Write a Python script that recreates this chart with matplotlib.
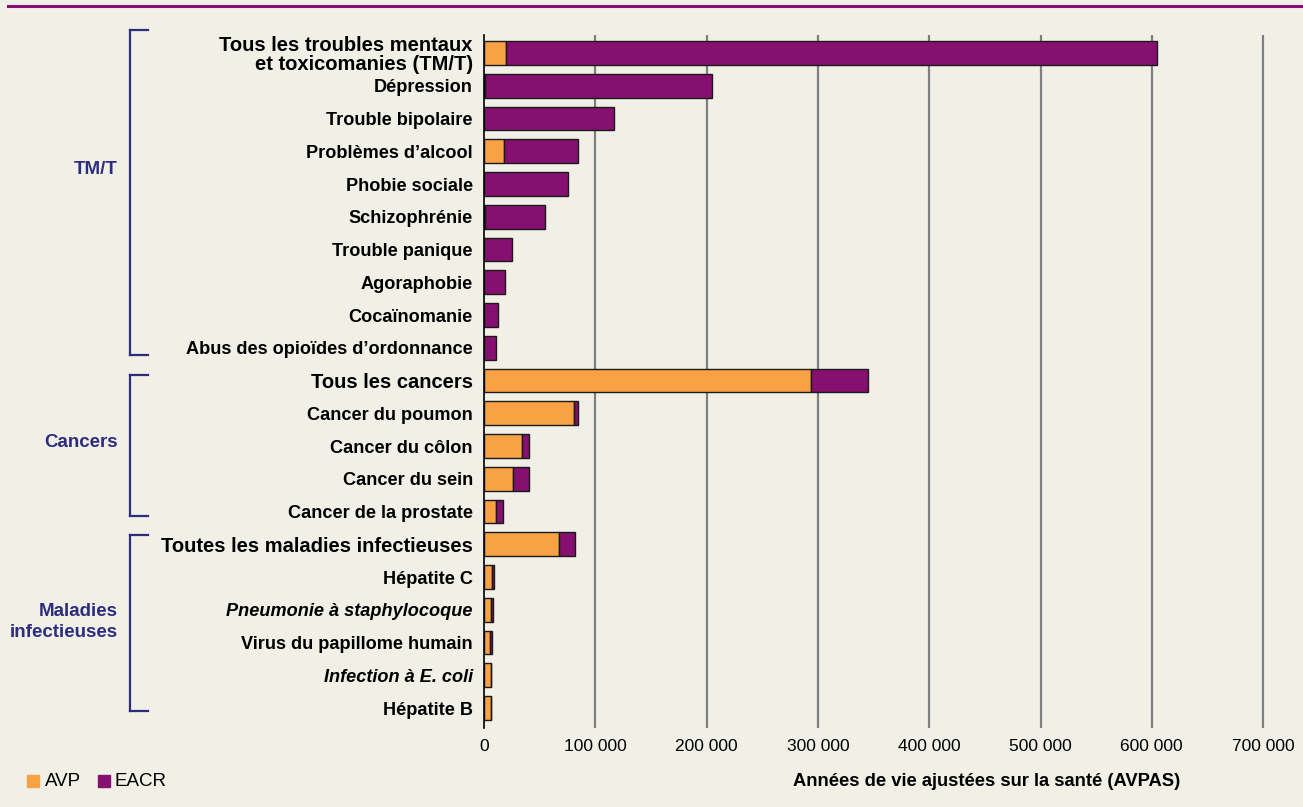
import matplotlib
matplotlib.use("Agg")
import matplotlib.pyplot as plt
from matplotlib.lines import Line2D
from matplotlib.patches import Rectangle

plt.rcParams['font.family'] = ['Liberation Sans', 'DejaVu Sans']

categories = [
    "Tous les troubles mentaux\net toxicomanies (TM/T)",
    "Dépression",
    "Trouble bipolaire",
    "Problèmes d\u2019alcool",
    "Phobie sociale",
    "Schizophrénie",
    "Trouble panique",
    "Agoraphobie",
    "Cocaïnomanie",
    "Abus des opioïdes d\u2019ordonnance",
    "Tous les cancers",
    "Cancer du poumon",
    "Cancer du côlon",
    "Cancer du sein",
    "Cancer de la prostate",
    "Toutes les maladies infectieuses",
    "Hépatite C",
    "Pneumonie à staphylocoque",
    "Virus du papillome humain",
    "Infection à E. coli",
    "Hépatite B",
]
avp = [20000, 1000, 0, 18000, 0, 1000, 0, 0, 0, 0,
       294000, 81000, 34000, 26300, 11000,
       67600, 7200, 6000, 5400, 6300, 6600]
eacr = [584500, 203600, 117000, 66200, 75500, 54000, 25200, 19000, 12300, 10500,
        51000, 3300, 6000, 13800, 6300,
        14100, 1500, 1800, 1800, 200, 0]
header_rows = [0, 10, 15]
italic_rows = [17, 19]

groups = ["TM/T", "Cancers", "Maladies\ninfectieuses"]
group_spans = [(0, 9), (10, 14), (15, 20)]

xticks = [0, 100000, 200000, 300000, 400000, 500000, 600000, 700000]
xtick_labels = ["0", "100 000", "200 000", "300 000", "400 000", "500 000", "600 000", "700 000"]

legend_labels = ["AVP", "EACR"]
x_title = "Années de vie ajustées sur la santé (AVPAS)"

BG = "#F1F0E6"
ORANGE = "#F8A145"
PURPLE = "#85106F"
NAVY = "#2E2C7E"
GRID = "#7F7F7F"

W, H = 1303, 807
fig = plt.figure(figsize=(W / 100, H / 100), dpi=100, facecolor=BG)

ax_left = 484 / W
ax_right = 1296.5 / W
ax_top = 1 - 35 / H
ax_bot = 1 - 728 / H
ax = fig.add_axes([ax_left, ax_bot, ax_right - ax_left, ax_top - ax_bot])
ax.set_facecolor(BG)

n = len(categories)
y = list(range(n))
ax.set_xlim(0, 730000)
ax.set_ylim(n - 1 + 0.61, -0.55)

for xt in xticks[1:]:
    ax.axvline(xt, color=GRID, lw=1.6, zorder=0)

bh = 0.72
ax.barh(y, avp, height=bh, color=ORANGE, edgecolor="#1a1a1a", linewidth=1.0, zorder=3)
ax.barh(y, eacr, left=avp, height=bh, color=PURPLE, edgecolor="#1a1a1a", linewidth=1.0, zorder=3)

for s in ["top", "right", "bottom"]:
    ax.spines[s].set_visible(False)
ax.spines["left"].set_color("black")
ax.spines["left"].set_linewidth(1.2)
ax.spines["left"].set_zorder(5)

ax.set_yticks(y)
ax.set_yticklabels(categories)
ax.tick_params(axis="y", length=0, pad=8)
for i, lab in enumerate(ax.get_yticklabels()):
    lab.set_fontweight("bold")
    lab.set_color("black")
    lab.set_linespacing(1.0)
    if i in header_rows:
        lab.set_fontsize(14.5)
    else:
        lab.set_fontsize(13.1)
    if i in italic_rows:
        lab.set_fontstyle("italic")

ax.set_xticks(xticks)
ax.set_xticklabels(xtick_labels, fontsize=12.5)
ax.tick_params(axis="x", length=0, pad=8)


def yfig(v):
    p = ax.transData.transform((0, v))
    return fig.transFigure.inverted().transform(p)[1]


# brackets and group labels
bracket_pad = [(-0.7, 0.21), (-0.18, 0.15), (-0.27, 0.09)]
label_rows = [3.57, 11.9, 17.37]
for (a, b), (pt, pb), g, lr in zip(group_spans, bracket_pad, groups, label_rows):
    xb = 130 / W
    xe = 148 / W
    yt = yfig(a + pt)
    yb = yfig(b + pb)
    fig.add_artist(Line2D([xb, xb], [yt, yb], color=NAVY, lw=1.6))
    fig.add_artist(Line2D([xb, xe], [yt, yt], color=NAVY, lw=1.6))
    fig.add_artist(Line2D([xb, xe], [yb, yb], color=NAVY, lw=1.6))
    fig.text(118 / W, yfig(lr), g, ha="right", va="center", color=NAVY,
             fontsize=13.5, fontweight="bold", linespacing=1.3, multialignment="right")

# top purple rule
fig.add_artist(Line2D([8 / W, 1.0], [1 - 6 / H, 1 - 6 / H], color=PURPLE, lw=2.2))

# legend
ly = 1 - 781 / H
fig.add_artist(Rectangle((27 / W, ly - 6 / H), 12 / W, 12 / H, color=ORANGE, transform=fig.transFigure))
fig.text(45 / W, ly, legend_labels[0], ha="left", va="center", fontsize=13.5)
fig.add_artist(Rectangle((98 / W, ly - 6 / H), 12 / W, 12 / H, color=PURPLE, transform=fig.transFigure))
fig.text(115 / W, ly, legend_labels[1], ha="left", va="center", fontsize=13.5)

fig.text(1180 / W, ly, x_title, ha="right", va="center", fontsize=13.2, fontweight="bold")

fig.savefig("out.png", dpi=100, facecolor=BG)
